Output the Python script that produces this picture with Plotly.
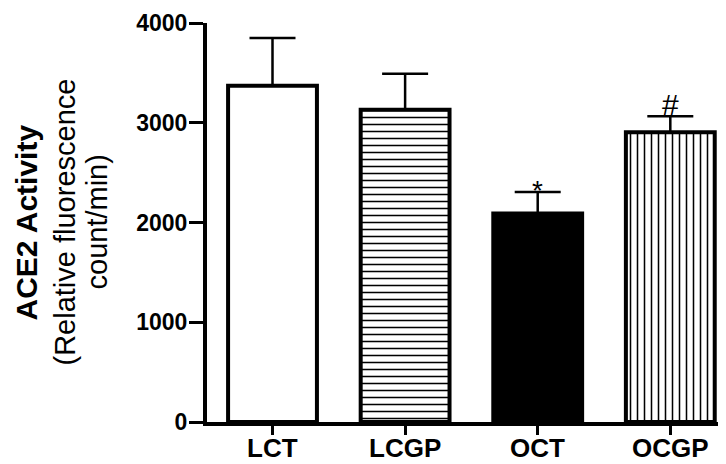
import plotly.graph_objects as go

categories = ["LCT", "LCGP", "OCT", "OCGP"]
means = [3370, 3130, 2090, 2905]
errors_plus = [480, 360, 215, 160]
bar_colors = ["white", "white", "black", "white"]
patterns = ["", "-", "", "|"]
marks = ["", "", "*", "#"]
y_ticks = [0, 1000, 2000, 3000, 4000]

FONT = "Arial, Liberation Sans, sans-serif"

fig = go.Figure()
for i, cat in enumerate(categories):
    marker = dict(color=bar_colors[i], line=dict(color="black", width=4))
    if patterns[i]:
        marker["pattern"] = dict(shape=patterns[i], fgcolor="black", bgcolor=bar_colors[i],
                                 size=7, solidity=0.22, fillmode="replace")
    fig.add_trace(go.Bar(
        x=[i], y=[means[i]], width=0.67, marker=marker,
        error_y=dict(type="data", symmetric=False, array=[errors_plus[i]],
                     arrayminus=[0], color="black", thickness=2.5, width=23),
        showlegend=False, name=cat,
    ))

for i, (m, e, t) in enumerate(zip(means, errors_plus, marks)):
    if t:
        fig.add_annotation(x=i, y=m + e, text=t, showarrow=False,
                           yanchor="bottom", yshift=-16 if t == "*" else -7,
                           font=dict(family=FONT, size=28 if t == "*" else 30, color="black"))

# x tick labels
for i, cat in enumerate(categories):
    fig.add_annotation(x=i, xref="x", y=0, yref="paper", text=cat, showarrow=False,
                       xanchor="center", yanchor="top", yshift=-9,
                       font=dict(family=FONT, size=26, color="black", weight="bold"))

# y-axis title lines
title_lines = [("ACE2 Activity", "bold", 30, -181), ("(Relative fluorescence", "normal", 29, -143),
               ("count/min)", "normal", 29, -111)]
for txt, w, sz, xs in title_lines:
    fig.add_annotation(x=0, xref="paper", y=0.5, yref="paper", text=txt, textangle=-90,
                       showarrow=False, xanchor="center", yanchor="middle", xshift=xs,
                       font=dict(family=FONT, size=sz, color="black", weight=w))

# page body has an 8px default margin, so the figure is sized to fit the window
fig.update_layout(
    width=718, height=456,
    margin=dict(l=199, r=0, t=15, b=42),
    paper_bgcolor="white", plot_bgcolor="white",
    barmode="overlay",
    xaxis=dict(range=[-0.494, 3.42], tickmode="array", tickvals=list(range(len(categories))),
               ticktext=[""] * len(categories), showline=True, linecolor="black", linewidth=4,
               ticks="outside", ticklen=9, tickwidth=3, tickcolor="black",
               showgrid=False, zeroline=False),
    yaxis=dict(range=[0, 4000], tickvals=y_ticks, showline=True, linecolor="black",
               linewidth=4, ticks="outside", ticklen=14, tickwidth=3, tickcolor="black",
               showgrid=False, zeroline=False, ticklabelstandoff=-3,
               tickfont=dict(family=FONT, size=23, color="black", weight="bold")),
)

fig.write_html("out.html")
